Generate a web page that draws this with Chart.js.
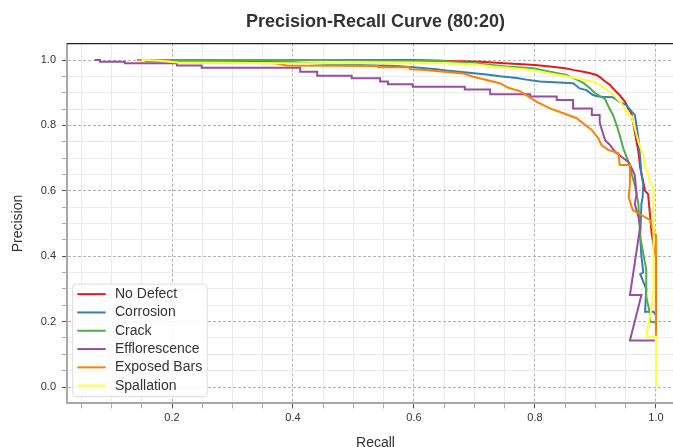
<!DOCTYPE html>
<html>
<head>
<meta charset="utf-8">
<script src="https://cdn.jsdelivr.net/npm/chart.js@4.4.0/dist/chart.umd.min.js"></script>
<style>
html,body{margin:0;padding:0;overflow:hidden;background:#fff;width:673px;height:447px;}
#wrap{position:absolute;left:0;top:0;width:751px;height:452px;}
canvas{display:block;}
</style>
</head>
<body>
<div id="wrap"><canvas id="c" width="751" height="452" style="width:751px;height:452px"></canvas></div>
<script>
// ---- data: [recall, precision] ----
const CLASSES = ['No Defect','Corrosion','Crack','Efflorescence','Exposed Bars','Spallation'];
const COLORS  = ['#e41a1c','#377eb8','#4daf4a','#984ea3','#ff7f00','#ffff33'];

const noDefectPR = [[0.150,1.000],[0.600,1.000],[0.640,0.998],[0.710,0.995],[0.750,0.990],[0.800,0.985],[0.825,0.980],[0.850,0.975],[0.865,0.969],[0.880,0.964],[0.890,0.960],[0.902,0.954],[0.908,0.947],[0.913,0.939],[0.918,0.932],[0.924,0.924],[0.928,0.915],[0.932,0.908],[0.936,0.900],[0.940,0.893],[0.944,0.883],[0.949,0.872],[0.952,0.862],[0.954,0.852],[0.958,0.842],[0.960,0.832],[0.962,0.811],[0.965,0.780],[0.968,0.750],[0.971,0.720],[0.974,0.670],[0.979,0.628],[0.982,0.600],[0.987,0.590],[0.990,0.530],[0.993,0.470],[0.998,0.410],[1.000,0.400],[1.000,0.170]];

const corrosionPR = [[0.155,0.997],[0.300,0.995],[0.400,0.993],[0.467,0.987],[0.571,0.982],[0.604,0.977],[0.637,0.972],[0.654,0.968],[0.687,0.962],[0.720,0.956],[0.742,0.950],[0.770,0.945],[0.786,0.940],[0.808,0.934],[0.863,0.929],[0.874,0.913],[0.885,0.908],[0.896,0.893],[0.905,0.888],[0.929,0.886],[0.940,0.872],[0.951,0.862],[0.960,0.842],[0.965,0.832],[0.968,0.800],[0.971,0.760],[0.974,0.700],[0.976,0.650],[0.979,0.620],[0.978,0.580],[0.976,0.560],[0.974,0.460],[0.976,0.400],[0.979,0.350],[0.974,0.345],[0.984,0.300],[0.982,0.230],[0.996,0.230],[1.000,0.220]];

const crackPR = [[0.150,1.000],[0.450,1.000],[0.643,0.998],[0.700,0.990],[0.753,0.980],[0.797,0.975],[0.825,0.964],[0.852,0.954],[0.869,0.940],[0.880,0.930],[0.890,0.915],[0.899,0.899],[0.907,0.890],[0.916,0.880],[0.921,0.860],[0.929,0.832],[0.935,0.801],[0.940,0.771],[0.946,0.730],[0.951,0.705],[0.957,0.679],[0.960,0.650],[0.965,0.618],[0.968,0.590],[0.971,0.560],[0.974,0.460],[0.979,0.409],[0.984,0.358],[0.984,0.276],[0.990,0.225],[0.990,0.200],[1.000,0.197]];

const effloPR = [[0.072,1.000],[0.081,1.000],[0.081,0.995],[0.122,0.995],[0.122,0.990],[0.208,0.990],[0.208,0.983],[0.249,0.983],[0.249,0.976],[0.412,0.976],[0.412,0.964],[0.440,0.964],[0.440,0.952],[0.497,0.952],[0.497,0.944],[0.544,0.944],[0.544,0.934],[0.557,0.934],[0.557,0.926],[0.598,0.926],[0.598,0.918],[0.684,0.918],[0.684,0.910],[0.726,0.910],[0.726,0.895],[0.792,0.895],[0.792,0.888],[0.836,0.888],[0.836,0.878],[0.863,0.878],[0.863,0.852],[0.894,0.852],[0.894,0.832],[0.907,0.832],[0.907,0.811],[0.910,0.790],[0.916,0.755],[0.924,0.740],[0.932,0.720],[0.943,0.704],[0.954,0.689],[0.960,0.669],[0.965,0.648],[0.968,0.590],[0.965,0.560],[0.971,0.521],[0.974,0.490],[0.957,0.281],[0.976,0.281],[0.957,0.142],[1.000,0.142]];

const exposedPR = [[0.142,1.000],[0.180,1.000],[0.200,0.994],[0.370,0.990],[0.390,0.983],[0.541,0.982],[0.541,0.978],[0.593,0.978],[0.593,0.972],[0.629,0.968],[0.645,0.965],[0.681,0.959],[0.698,0.949],[0.720,0.939],[0.742,0.929],[0.756,0.915],[0.775,0.905],[0.792,0.885],[0.803,0.872],[0.825,0.852],[0.847,0.837],[0.869,0.822],[0.880,0.806],[0.894,0.786],[0.905,0.760],[0.910,0.740],[0.921,0.725],[0.938,0.715],[0.940,0.679],[0.957,0.679],[0.957,0.620],[0.955,0.580],[0.960,0.550],[0.962,0.541],[0.976,0.526],[0.990,0.511],[0.998,0.465],[1.000,0.465],[1.000,0.154]];

const spallPR = [[0.150,1.000],[0.180,0.998],[0.210,0.992],[0.400,0.990],[0.648,0.990],[0.700,0.987],[0.731,0.980],[0.764,0.975],[0.797,0.969],[0.825,0.959],[0.852,0.950],[0.874,0.942],[0.896,0.934],[0.907,0.924],[0.924,0.903],[0.935,0.883],[0.943,0.868],[0.949,0.847],[0.960,0.827],[0.965,0.791],[0.971,0.750],[0.979,0.709],[0.982,0.669],[0.987,0.653],[0.990,0.623],[0.996,0.612],[0.996,0.300],[0.993,0.245],[0.984,0.154],[1.000,0.154],[1.000,0.000]];

const SERIES = [noDefectPR, corrosionPR, crackPR, effloPR, exposedPR, spallPR];

// tick labels
const X_MAJOR = [0.2, 0.4, 0.6, 0.8, 1.0];
const X_MINOR = [0.05,0.1,0.15,0.25,0.3,0.35,0.45,0.5,0.55,0.65,0.7,0.75,0.85,0.9,0.95];
const Y_MAJOR = [0.0, 0.2, 0.4, 0.6, 0.8, 1.0];
const Y_MINOR = [0.05,0.1,0.15,0.25,0.3,0.35,0.45,0.5,0.55,0.65,0.7,0.75,0.85,0.9,0.95];

function buildTicks(major, minor){
  return major.map(v=>({value:v,isMajor:true}))
    .concat(minor.map(v=>({value:v,isMajor:false})))
    .sort((a,b)=>a.value-b.value);
}

Chart.defaults.font.family = "'Liberation Sans', Arial, sans-serif";

const gridColor = c => (c.tick && c.tick.isMajor) ? '#b3b3b3' : '#ebebeb';
const gridDash  = c => (c.tick && c.tick.isMajor) ? [3,2] : [];
const tickColor = c => (c.tick && c.tick.isMajor) ? '#555' : '#aaa';
const tickLabel = (v,i,ticks) => (ticks[i] && ticks[i].isMajor) ? v.toFixed(1) : '';

const frameTop = {
  id:'frameTop',
  beforeDatasetsDraw(chart){
    const {ctx, chartArea:a} = chart;
    ctx.save();
    ctx.strokeStyle = '#222';
    ctx.lineWidth = 1.2;
    ctx.beginPath();
    ctx.moveTo(a.left, a.top);
    ctx.lineTo(a.right, a.top);
    ctx.stroke();
    ctx.restore();
  }
};

const insideLegend = {
  id:'insideLegend',
  afterDraw(chart){
    const {ctx, chartArea:a} = chart;
    const ds = chart.data.datasets;
    const x0 = a.left + 5.7, w = 134.5, rowH = 18.3, h = 112.5;
    const y0 = a.bottom - 6.7 - h;
    ctx.save();
    ctx.beginPath();
    if (ctx.roundRect) ctx.roundRect(x0, y0, w, h, 3); else ctx.rect(x0, y0, w, h);
    ctx.fillStyle = 'rgba(255,255,255,0.85)';
    ctx.fill();
    ctx.strokeStyle = '#dcdcdc';
    ctx.lineWidth = 1;
    ctx.stroke();
    ctx.font = "14px 'Liberation Sans', Arial, sans-serif";
    ctx.textBaseline = 'middle';
    ctx.textAlign = 'left';
    ds.forEach((d,i)=>{
      const y = y0 + 10 + i*rowH;
      ctx.strokeStyle = d.borderColor;
      ctx.lineWidth = 2;
      ctx.beginPath();
      ctx.moveTo(x0+4.6, y);
      ctx.lineTo(x0+33, y);
      ctx.stroke();
      ctx.fillStyle = '#333';
      ctx.fillText(d.label, x0+42.3, y);
    });
    ctx.restore();
  }
};

const datasets = CLASSES.map((name,i)=>({
  label: name,
  data: SERIES[i].map(p=>({x:p[0], y:p[1]})),
  borderColor: COLORS[i],
  backgroundColor: COLORS[i],
  borderWidth: 2,
  showLine: true,
  pointRadius: 0,
  pointHoverRadius: 0,
  fill: false,
  tension: 0,
  order: CLASSES.length - i
}));

new Chart(document.getElementById('c'), {
  type: 'scatter',
  data: { datasets },
  plugins: [frameTop, insideLegend],
  options: {
    responsive: false,
    animation: false,
    events: [],
    layout: { padding: { left: 9.6, right: 67, top: 0, bottom: 0 } },
    plugins: {
      legend: { display: false },
      tooltip: { enabled: false },
      title: {
        display: true,
        fullSize: false,
        text: 'Precision-Recall Curve (80:20)',
        color: '#333',
        font: { size: 18, weight: 'bold', family: "'Liberation Sans', Arial, sans-serif", lineHeight: 1.2 },
        padding: { top: 11.3, bottom: 10.75 }
      }
    },
    scales: {
      x: {
        type: 'linear',
        min: 0.0264, max: 1.0464,
        afterBuildTicks: s => { s.ticks = buildTicks(X_MAJOR, X_MINOR); },
        afterFit: s => { s.height = 48.65; },
        ticks: { callback: tickLabel, autoSkip: false, maxRotation: 0, padding: 3, color: '#333', font: { size: 11 } },
        grid: { color: gridColor, lineWidth: 1, tickLength: 5, tickColor: tickColor, tickWidth: 1 },
        border: { display: true, color: '#a8a8a8', width: 2, dash: gridDash },
        title: { display: true, text: 'Recall', color: '#333', font: { size: 14, lineHeight: 1.2 }, padding: { top: 0, bottom: 0 } }
      },
      y: {
        type: 'linear',
        min: -0.05, max: 1.05,
        afterBuildTicks: s => { s.ticks = buildTicks(Y_MAJOR, Y_MINOR); },
        afterFit: s => { s.width = 57.4; },
        ticks: { callback: tickLabel, autoSkip: false, padding: 6, color: '#333', font: { size: 11 } },
        grid: { color: gridColor, lineWidth: 1, tickLength: 5, tickColor: tickColor, tickWidth: 1 },
        border: { display: true, color: '#a8a8a8', width: 2, dash: gridDash },
        title: { display: true, text: 'Precision', color: '#333', font: { size: 14, lineHeight: 1.2 }, padding: { top: 0, bottom: 0 } }
      }
    }
  }
});
</script>
</body>
</html>
